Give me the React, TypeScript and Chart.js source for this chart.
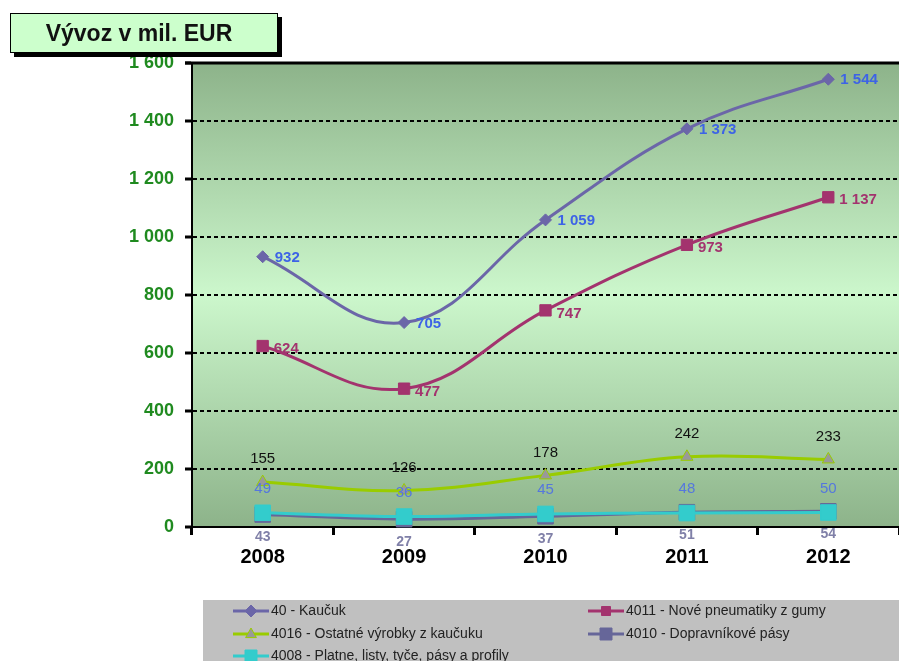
import React, { useEffect, useRef } from "react";
import { Chart, registerables } from "chart.js";

Chart.register(...registerables);

const years = ["2008", "2009", "2010", "2011", "2012"];
const kaucuk = [932, 705, 1059, 1373, 1544];
const pneumatiky = [624, 477, 747, 973, 1137];
const ostatne = [155, 126, 178, 242, 233];
const dopravnikove = [43, 27, 37, 51, 54];
const platne = [49, 36, 45, 48, 50];
const seriesNames = [
  "40 - Kaučuk",
  "4011 - Nové pneumatiky z gumy",
  "4016 - Ostatné výrobky z kaučuku",
  "4010 - Dopravníkové pásy",
  "4008 - Platne, listy, tyče, pásy a profily",
];
const titleText = "Vývoz v mil. EUR";
const yMin = 0;
const yMax = 1600;
const yStep = 200;

const FONT = "'Liberation Sans', Arial, sans-serif";
const fmt = (n: number) => String(n).replace(/\B(?=(\d{3})+(?!\d))/g, " ");

const colors = ["#6b66a8", "#a3336e", "#99cc00", "#666699", "#33cccc"];
const pointFills = ["#6b66a8", "#a3336e", "#999999", "#666699", "#33cccc"];
const pointStyles = ["rectRot", "rect", "triangle", "rect", "rect"];
const pointRadii = [6, 8, 7, 11, 11];
const legendRadii = [6, 6, 6, 8, 8];
const labelStyles = [
  { color: "#3d63e6", font: `bold 15px ${FONT}`, align: "left", dx: 12, dy: 1 },
  { color: "#a3336e", font: `bold 15px ${FONT}`, align: "left", dx: 11, dy: 3 },
  { color: "#111111", font: `15px ${FONT}`, align: "center", dx: 0, dy: -23 },
  { color: "#8080a8", font: `bold 14px ${FONT}`, align: "center", dx: 0, dy: 23 },
  { color: "#5577dd", font: `15px ${FONT}`, align: "center", dx: 0, dy: -24 },
];

const bgPlugin = {
  id: "bgGrad",
  beforeDraw(chart: any) {
    const { ctx, chartArea: a } = chart;
    const g = ctx.createLinearGradient(0, a.top, 0, a.bottom);
    g.addColorStop(0, "#8db38a");
    g.addColorStop(0.5, "#ccf7cc");
    g.addColorStop(1, "#8db38a");
    ctx.save();
    ctx.fillStyle = g;
    ctx.fillRect(a.left, a.top, a.right - a.left, a.bottom - a.top);
    ctx.restore();
  },
};

function drawMarker(ctx: CanvasRenderingContext2D, style: string, x: number, y: number, r: number) {
  ctx.beginPath();
  if (style === "rectRot") {
    ctx.moveTo(x, y - r);
    ctx.lineTo(x + r, y);
    ctx.lineTo(x, y + r);
    ctx.lineTo(x - r, y);
    ctx.closePath();
  } else if (style === "triangle") {
    ctx.moveTo(x, y - r);
    ctx.lineTo(x + r * 0.9, y + r * 0.6);
    ctx.lineTo(x - r * 0.9, y + r * 0.6);
    ctx.closePath();
  } else {
    const s = r * 0.75;
    ctx.rect(x - s, y - s, 2 * s, 2 * s);
  }
  ctx.fill();
  ctx.stroke();
}

const overlayPlugin = {
  id: "overlay",
  afterDraw(chart: any) {
    const { ctx, chartArea: a } = chart;
    ctx.save();
    // top border
    ctx.strokeStyle = "#000";
    ctx.lineWidth = 3;
    ctx.beginPath();
    ctx.moveTo(a.left - 7, a.top);
    ctx.lineTo(chart.width, a.top);
    ctx.stroke();

    // data labels
    chart.data.datasets.forEach((ds: any, i: number) => {
      const meta = chart.getDatasetMeta(i);
      const st = labelStyles[i];
      ctx.font = st.font;
      ctx.fillStyle = st.color;
      ctx.textAlign = st.align;
      ctx.textBaseline = "middle";
      meta.data.forEach((pt: any, j: number) => {
        ctx.fillText(fmt(ds.data[j]), pt.x + st.dx, pt.y + st.dy);
      });
    });

    // legend
    const lx = 203, ly = 600;
    ctx.fillStyle = "#c0c0c0";
    ctx.fillRect(lx, ly, chart.width - lx, chart.height - ly);
    const pos = [
      [233, 611],
      [588, 611],
      [233, 634],
      [588, 634],
      [233, 656],
    ];
    [0, 1, 2, 3, 4].forEach((di, k) => {
      const [x, y] = pos[k];
      ctx.strokeStyle = colors[di];
      ctx.lineWidth = 3;
      ctx.beginPath();
      ctx.moveTo(x, y);
      ctx.lineTo(x + 36, y);
      ctx.stroke();
      ctx.fillStyle = pointFills[di];
      ctx.strokeStyle = di === 2 ? colors[2] : pointFills[di];
      ctx.lineWidth = 1;
      drawMarker(ctx, pointStyles[di], x + 18, y, legendRadii[di]);
      ctx.fillStyle = "#222";
      ctx.font = `14px ${FONT}`;
      ctx.textAlign = "left";
      ctx.textBaseline = "middle";
      ctx.fillText(seriesNames[di], x + 38, y);
    });
    ctx.restore();
  },
};

export default function App() {
  const ref = useRef<HTMLCanvasElement | null>(null);
  useEffect(() => {
    if (!ref.current) return;
    const series = [kaucuk, pneumatiky, ostatne, dopravnikove, platne];
    const drawOrder = [4, 3, 2, 1, 0];
    const chart = new Chart(ref.current, {
      type: "line",
      data: {
        labels: years,
        datasets: series.map((d, i) => ({
          label: seriesNames[i],
          data: d,
          borderColor: colors[i],
          borderWidth: 3,
          backgroundColor: pointFills[i],
          pointBackgroundColor: pointFills[i],
          pointBorderColor: i === 2 ? colors[2] : pointFills[i],
          pointBorderWidth: 1,
          pointStyle: pointStyles[i] as any,
          pointRadius: pointRadii[i],
          tension: 0.4,
          fill: false,
          clip: false,
          order: drawOrder[i],
        })),
      },
      options: {
        animation: false,
        responsive: false,
        devicePixelRatio: 1,
        layout: { autoPadding: false, padding: { top: 63, right: -1, left: 0, bottom: 0 } },
        plugins: { legend: { display: false }, tooltip: { enabled: false } },
        scales: {
          x: {
            type: "category",
            offset: true,
            grid: {
              offset: true,
              drawOnChartArea: false,
              drawTicks: true,
              tickLength: 8,
              tickWidth: 3,
              tickColor: "#000",
            },
            border: { display: true, color: "#000", width: 2 },
            ticks: {
              color: "#000",
              font: { family: FONT, size: 20, weight: "bold" },
              padding: 10,
              maxRotation: 0,
            },
            afterFit(scale: any) {
              scale.height = 134;
              scale.paddingLeft = 0;
              scale.paddingRight = 0;
            },
          },
          y: {
            min: yMin,
            max: yMax,
            ticks: {
              stepSize: yStep,
              color: "#1f8a1f",
              font: { family: FONT, size: 18, weight: "bold" },
              padding: 11,
              callback: (v: any) => fmt(Number(v)),
            },
            grid: {
              color: "#000",
              lineWidth: 2,
              drawTicks: true,
              tickLength: 7,
              tickWidth: 3,
              tickColor: "#000",
            },
            border: { display: true, color: "#000", width: 2, dash: [4, 3] },
            afterFit(scale: any) {
              scale.width = 192;
            },
          },
        },
      },
      plugins: [bgPlugin, overlayPlugin],
    } as any);
    return () => chart.destroy();
  }, []);

  return (
    <div style={{ position: "fixed", left: 0, top: 0, width: 899, height: 661, overflow: "hidden", background: "#fff" }}>
      <canvas ref={ref} width={899} height={661} style={{ display: "block", width: 899, height: 661 }} />
      <div
        style={{
          position: "absolute",
          left: 10,
          top: 13,
          width: 256,
          height: 38,
          paddingRight: 10,
          border: "1px solid #000",
          background: "#ccffcc",
          boxShadow: "4px 4px 0 #000",
          fontFamily: FONT,
          fontWeight: "bold",
          fontSize: 23,
          lineHeight: "38px",
          textAlign: "center",
          color: "#111",
        }}
      >
        {titleText}
      </div>
    </div>
  );
}
